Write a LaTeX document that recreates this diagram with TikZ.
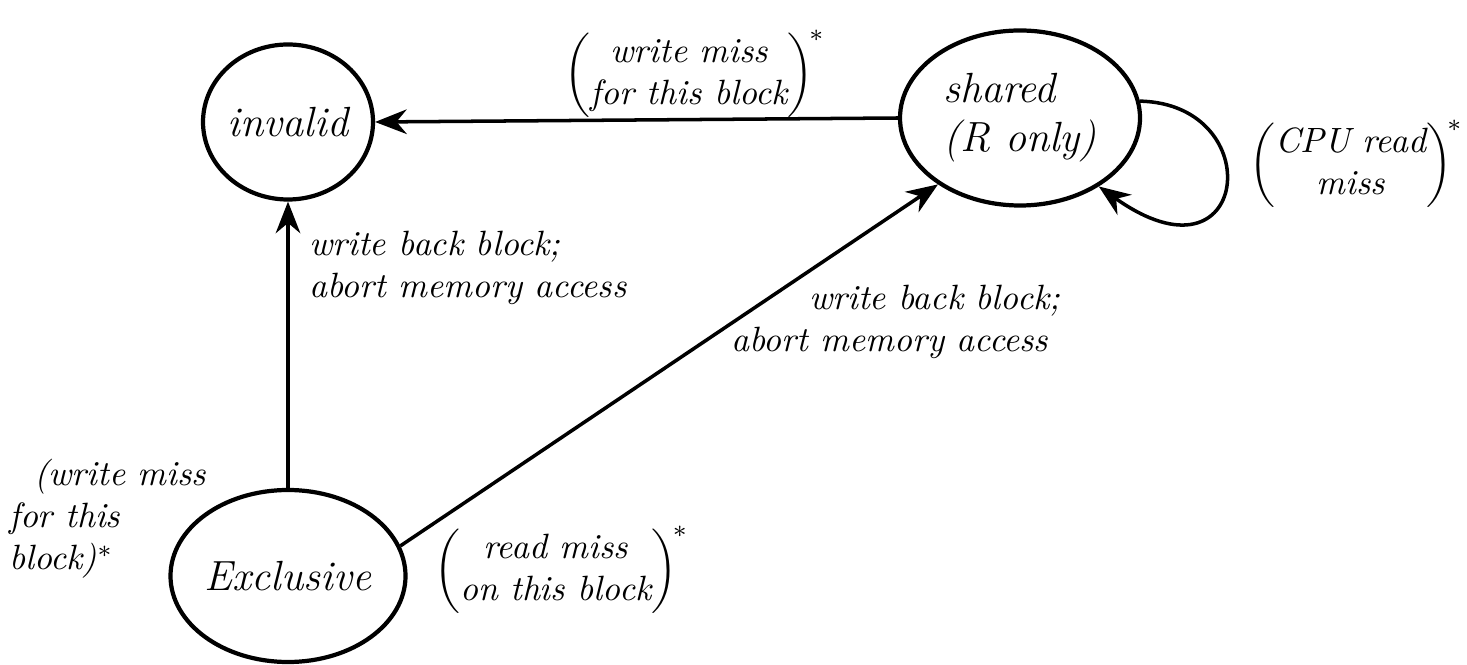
\documentclass[tikz,border=0pt]{standalone}
\usepackage{amsmath}
\usepackage{tikz}
\usetikzlibrary{shapes.geometric, arrows.meta, positioning}

\begin{document}
\begin{tikzpicture}[
  st/.style={draw, ellipse, line width=1.2pt, inner sep=0pt, font=\large\itshape},
  arr/.style={-{Stealth[length=9pt,width=7pt]}, line width=1pt},
  lbl/.style={font=\normalsize\itshape, align=center, inner sep=1pt}
]
\useasboundingbox (0,0) rectangle (14.67,6.64);

\node[st, minimum width=1.65cm, minimum height=1.55cm] (invalid) at (2.88, 5.42) {invalid};
\node[st, minimum width=2.4cm, minimum height=1.75cm, align=left] (shared) at (10.20, 5.46) {shared\\(R only)};
\node[st, minimum width=2.35cm, minimum height=1.72cm] (excl) at (2.88, 0.88) {Exclusive};

\draw[arr] (shared.west) -- (invalid.east);
\draw[arr] (excl.north) -- (invalid.south);
\draw[arr] (excl.15) -- (shared.-141);
\draw[arr] (shared.8) .. controls (12.7,5.6) and (12.5,3.7) .. (shared.-41);

\node[lbl] (wmtop) at (6.95, 5.9) {$\left(\begin{tabular}{@{}c@{}}write miss\\for this block\end{tabular}\right)^{\!*}$};
\node[lbl, anchor=west] (cpurd) at (12.45, 5.0) {$\left(\begin{tabular}{@{}c@{}}CPU read\\miss\end{tabular}\right)^{\!*}$};
\node[lbl, align=left, anchor=west] (wbleft) at (3.05, 3.96) {write back block;\\abort memory access};
\node[lbl, anchor=west] (wbdiag) at (7.15, 3.42) {\hspace*{0.9cm}write back block;\\abort memory access};
\node[lbl, align=left, anchor=west] (wmleft) at (0.05, 1.45) {\hspace*{0.25cm}(write miss\\for this\\block)$^*$};
\node[lbl, anchor=west] (rmiss) at (4.3, 0.94) {$\left(\begin{tabular}{@{}c@{}}read miss\\on this block\end{tabular}\right)^{\!*}$};

\end{tikzpicture}
\end{document}
